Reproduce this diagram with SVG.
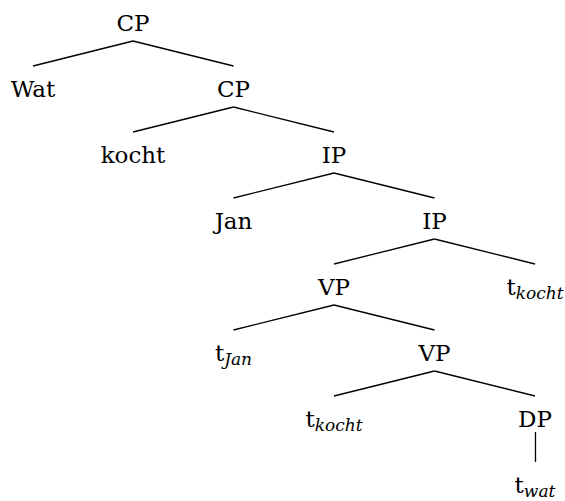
<svg xmlns="http://www.w3.org/2000/svg" width="565" height="501" viewBox="0 0 565 501">
<style>
text{font-family:"DejaVu Serif","Liberation Serif",serif;font-size:23px;fill:#000;text-anchor:middle}
.s{font-family:"DejaVu Serif","Liberation Serif",serif;font-style:italic;font-size:17px}
line{stroke:#000;stroke-width:1.3}
</style>
<rect width="565" height="501" fill="#fff"/>
<g id="connectors">
<line x1="133" y1="41" x2="33" y2="66"/><line x1="133" y1="41" x2="233.5" y2="66"/>
<line x1="233.5" y1="107" x2="133" y2="132"/><line x1="233.5" y1="107" x2="334" y2="132"/>
<line x1="334" y1="173" x2="233.5" y2="198"/><line x1="334" y1="173" x2="434.5" y2="198"/>
<line x1="434.5" y1="239" x2="334" y2="264"/><line x1="434.5" y1="239" x2="535" y2="264"/>
<line x1="334" y1="305" x2="233.5" y2="330"/><line x1="334" y1="305" x2="434.5" y2="330"/>
<line x1="434.5" y1="371" x2="334" y2="396"/><line x1="434.5" y1="371" x2="535" y2="396"/>
<line x1="535.5" y1="432" x2="535.5" y2="462"/>
</g>
<g id="cp1"><text x="133" y="31">CP</text></g>
<g id="wat"><text x="33" y="97">Wat</text></g>
<g id="cp2"><text x="233.5" y="97">CP</text></g>
<g id="kocht"><text x="133" y="163">kocht</text></g>
<g id="ip1"><text x="334" y="163">IP</text></g>
<g id="jan"><text x="233.5" y="229">Jan</text></g>
<g id="ip2"><text x="434.5" y="229">IP</text></g>
<g id="vp1"><text x="334" y="295">VP</text></g>
<g id="tkocht1"><text x="535" y="295">t<tspan class="s" dy="4">kocht</tspan></text></g>
<g id="tjan"><text x="233.5" y="361">t<tspan class="s" dy="4">Jan</tspan></text></g>
<g id="vp2"><text x="434.5" y="361">VP</text></g>
<g id="tkocht2"><text x="334" y="427">t<tspan class="s" dy="4">kocht</tspan></text></g>
<g id="dp"><text x="535" y="427">DP</text></g>
<g id="twat"><text x="535" y="493">t<tspan class="s" dy="4">wat</tspan></text></g>
</svg>
